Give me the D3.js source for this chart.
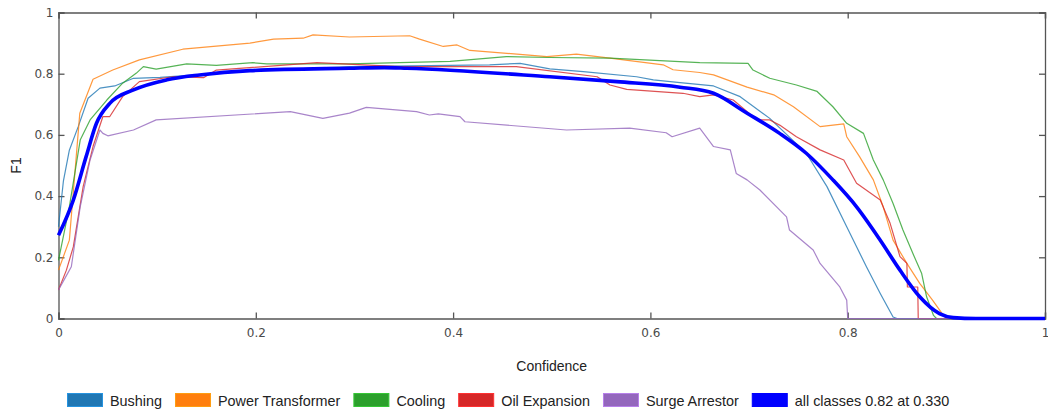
<!DOCTYPE html>
<html>
<head>
<meta charset="utf-8">
<script src="https://cdn.jsdelivr.net/npm/d3@7"></script>
<style>
  body { margin: 0; background: #fff; }
  svg { display: block; }
</style>
</head>
<body>
<div id="chart"></div>
<script>
// confidence / F1 pairs, one pair of arrays per class
const bushingX = [0, 0.005, 0.011, 0.02, 0.03, 0.042, 0.057, 0.076, 0.103, 0.2, 0.295, 0.437, 0.468, 0.498, 0.532, 0.586, 0.603, 0.63, 0.664, 0.691, 0.721, 0.758, 0.779, 0.799, 0.819, 0.833, 0.846, 0.85, 1];
const bushingY = [0.30, 0.45, 0.55, 0.627, 0.72, 0.753, 0.76, 0.785, 0.788, 0.81, 0.823, 0.829, 0.834, 0.816, 0.807, 0.79, 0.78, 0.771, 0.76, 0.725, 0.654, 0.54, 0.431, 0.30, 0.169, 0.082, 0.005, 0, 0];

const powerX = [0, 0.011, 0.0216, 0.035, 0.055, 0.082, 0.126, 0.194, 0.218, 0.248, 0.258, 0.295, 0.356, 0.366, 0.39, 0.404, 0.417, 0.495, 0.525, 0.559, 0.613, 0.623, 0.65, 0.664, 0.698, 0.725, 0.745, 0.772, 0.796, 0.799, 0.812, 0.826, 0.836, 0.846, 0.86, 0.873, 0.886, 0.897, 0.9, 1];
const powerY = [0.158, 0.256, 0.671, 0.782, 0.812, 0.845, 0.88, 0.90, 0.913, 0.916, 0.927, 0.92, 0.924, 0.913, 0.889, 0.894, 0.876, 0.856, 0.864, 0.851, 0.829, 0.813, 0.804, 0.796, 0.756, 0.731, 0.692, 0.627, 0.636, 0.594, 0.529, 0.453, 0.365, 0.256, 0.18, 0.115, 0.06, 0.01, 0, 0];

const coolingX = [0, 0.011, 0.022, 0.032, 0.049, 0.065, 0.079, 0.086, 0.099, 0.13, 0.16, 0.197, 0.211, 0.295, 0.397, 0.454, 0.498, 0.559, 0.65, 0.699, 0.704, 0.721, 0.748, 0.769, 0.785, 0.799, 0.816, 0.826, 0.836, 0.846, 0.856, 0.866, 0.875, 0.88, 0.887, 0.89, 1];
const coolingY = [0.19, 0.365, 0.583, 0.649, 0.714, 0.769, 0.802, 0.823, 0.815, 0.832, 0.827, 0.836, 0.832, 0.832, 0.84, 0.856, 0.853, 0.851, 0.836, 0.834, 0.812, 0.785, 0.763, 0.742, 0.692, 0.638, 0.605, 0.518, 0.453, 0.376, 0.289, 0.213, 0.147, 0.071, 0.01, 0, 0];

const oilX = [0, 0.008, 0.015, 0.025, 0.035, 0.045, 0.052, 0.065, 0.082, 0.116, 0.147, 0.16, 0.262, 0.346, 0.464, 0.546, 0.559, 0.576, 0.633, 0.65, 0.664, 0.684, 0.708, 0.721, 0.731, 0.748, 0.772, 0.796, 0.809, 0.833, 0.843, 0.853, 0.86, 0.8605, 0.871, 0.8715, 1];
const oilY = [0.093, 0.158, 0.234, 0.431, 0.562, 0.66, 0.66, 0.725, 0.774, 0.79, 0.787, 0.812, 0.836, 0.823, 0.823, 0.79, 0.763, 0.749, 0.736, 0.725, 0.731, 0.714, 0.649, 0.649, 0.632, 0.594, 0.551, 0.518, 0.442, 0.387, 0.311, 0.202, 0.18, 0.103, 0.103, 0, 0];

const surgeX = [0, 0.008, 0.013, 0.022, 0.032, 0.042, 0.045, 0.05, 0.076, 0.099, 0.235, 0.268, 0.295, 0.312, 0.363, 0.376, 0.385, 0.407, 0.412, 0.515, 0.579, 0.616, 0.622, 0.65, 0.664, 0.681, 0.687, 0.698, 0.711, 0.738, 0.741, 0.765, 0.772, 0.792, 0.799, 0.8, 1];
const surgeY = [0.093, 0.14, 0.169, 0.365, 0.518, 0.616, 0.605, 0.597, 0.616, 0.649, 0.676, 0.654, 0.671, 0.69, 0.676, 0.665, 0.669, 0.66, 0.643, 0.616, 0.622, 0.607, 0.594, 0.622, 0.562, 0.551, 0.474, 0.453, 0.42, 0.332, 0.289, 0.224, 0.18, 0.103, 0.06, 0, 0];

const allX = [0, 0.015, 0.028, 0.0385, 0.052, 0.076, 0.11, 0.143, 0.194, 0.295, 0.33, 0.353, 0.498, 0.566, 0.63, 0.664, 0.698, 0.731, 0.758, 0.785, 0.809, 0.833, 0.853, 0.873, 0.893, 0.907, 0.93, 1];
const allY = [0.272, 0.387, 0.529, 0.638, 0.703, 0.747, 0.78, 0.796, 0.81, 0.818, 0.82, 0.818, 0.79, 0.774, 0.756, 0.736, 0.671, 0.605, 0.54, 0.453, 0.365, 0.256, 0.158, 0.071, 0.016, 0.003, 0, 0];

const classNames = ['Bushing', 'Power Transformer', 'Cooling', 'Oil Expansion', 'Surge Arrestor', 'all classes 0.82 at 0.330'];
const classColors = ['#1f77b4', '#ff7f0e', '#2ca02c', '#d62728', '#9467bd', '#0000ff'];
const seriesX = [bushingX, powerX, coolingX, oilX, surgeX, allX];
const seriesY = [bushingY, powerY, coolingY, oilY, surgeY, allY];

const xTicks = [0, 0.2, 0.4, 0.6, 0.8, 1];
const yTicks = [0, 0.2, 0.4, 0.6, 0.8, 1];

const width = 1048;
const height = 412;
const margin = { top: 12.5, right: 3, bottom: 93.5, left: 58.5 };
const innerW = width - margin.left - margin.right;
const innerH = height - margin.top - margin.bottom;

const svg = d3.select('#chart')
  .append('svg')
  .attr('width', width)
  .attr('height', height);

const g = svg.append('g').attr('transform', `translate(${margin.left},${margin.top})`);

const x = d3.scaleLinear().domain([0, 1]).range([0, innerW]);
const y = d3.scaleLinear().domain([0, 1]).range([innerH, 0]);

const fmt = d => String(d);
const tickFont = '12px "DejaVu Sans", Verdana, sans-serif';

function styleAxis(sel) {
  sel.select('.domain').attr('stroke', '#555').attr('stroke-width', 1.3);
  sel.selectAll('.tick line').attr('stroke', '#555').attr('stroke-width', 1.3);
  sel.selectAll('.tick text').attr('fill', '#4a4a4a').style('font', tickFont);
}

g.append('g')
  .attr('transform', `translate(0,${innerH})`)
  .call(d3.axisBottom(x).tickValues(xTicks).tickSize(-6).tickPadding(10).tickFormat(fmt))
  .call(styleAxis);

g.append('g')
  .call(d3.axisTop(x).tickValues(xTicks).tickSize(-6).tickFormat(''))
  .call(styleAxis);

g.append('g')
  .call(d3.axisLeft(y).tickValues(yTicks).tickSize(-6).tickPadding(5).tickFormat(fmt))
  .call(styleAxis);

g.append('g')
  .attr('transform', `translate(${innerW},0)`)
  .call(d3.axisRight(y).tickValues(yTicks).tickSize(-6).tickFormat(''))
  .call(styleAxis);

// lines
const thin = d3.line().x(d => x(d[0])).y(d => y(d[1]));
const smooth = d3.line().x(d => x(d[0])).y(d => y(d[1])).curve(d3.curveMonotoneX);

const lines = g.append('g');
seriesX.forEach((xs, i) => {
  const pts = xs.map((v, j) => [v, seriesY[i][j]]);
  const isAll = i === seriesX.length - 1;
  lines.append('path')
    .datum(pts)
    .attr('fill', 'none')
    .attr('stroke', classColors[i])
    .attr('stroke-width', isAll ? 3.6 : 1.2)
    .attr('stroke-opacity', isAll ? 1 : 0.8)
    .attr('stroke-linejoin', 'round')
    .attr('d', isAll ? smooth : thin);
});

// axis titles
const titleFont = '14px "Liberation Sans", Arial, sans-serif';
svg.append('text')
  .attr('x', margin.left + innerW / 2)
  .attr('y', 371)
  .attr('text-anchor', 'middle')
  .attr('fill', '#222')
  .style('font', titleFont)
  .text('Confidence');

svg.append('text')
  .attr('transform', `translate(21,${margin.top + innerH / 2}) rotate(-90)`)
  .attr('text-anchor', 'middle')
  .attr('fill', '#222')
  .style('font', titleFont)
  .text('F1');

// legend
const legend = svg.append('g');
let lx = 67;
classNames.forEach((name, i) => {
  legend.append('rect')
    .attr('x', lx + 0.5)
    .attr('y', 393.5)
    .attr('width', 35)
    .attr('height', 13)
    .attr('fill', classColors[i])
    .attr('stroke', d3.color(classColors[i]).brighter(0.6))
    .attr('stroke-width', 1);
  const t = legend.append('text')
    .attr('x', lx + 43)
    .attr('y', 405.5)
    .attr('fill', '#222')
    .style('font', '14.4px "Liberation Sans", Arial, sans-serif')
    .text(name);
  lx += 43 + t.node().getComputedTextLength() + 13;
});
</script>
</body>
</html>
